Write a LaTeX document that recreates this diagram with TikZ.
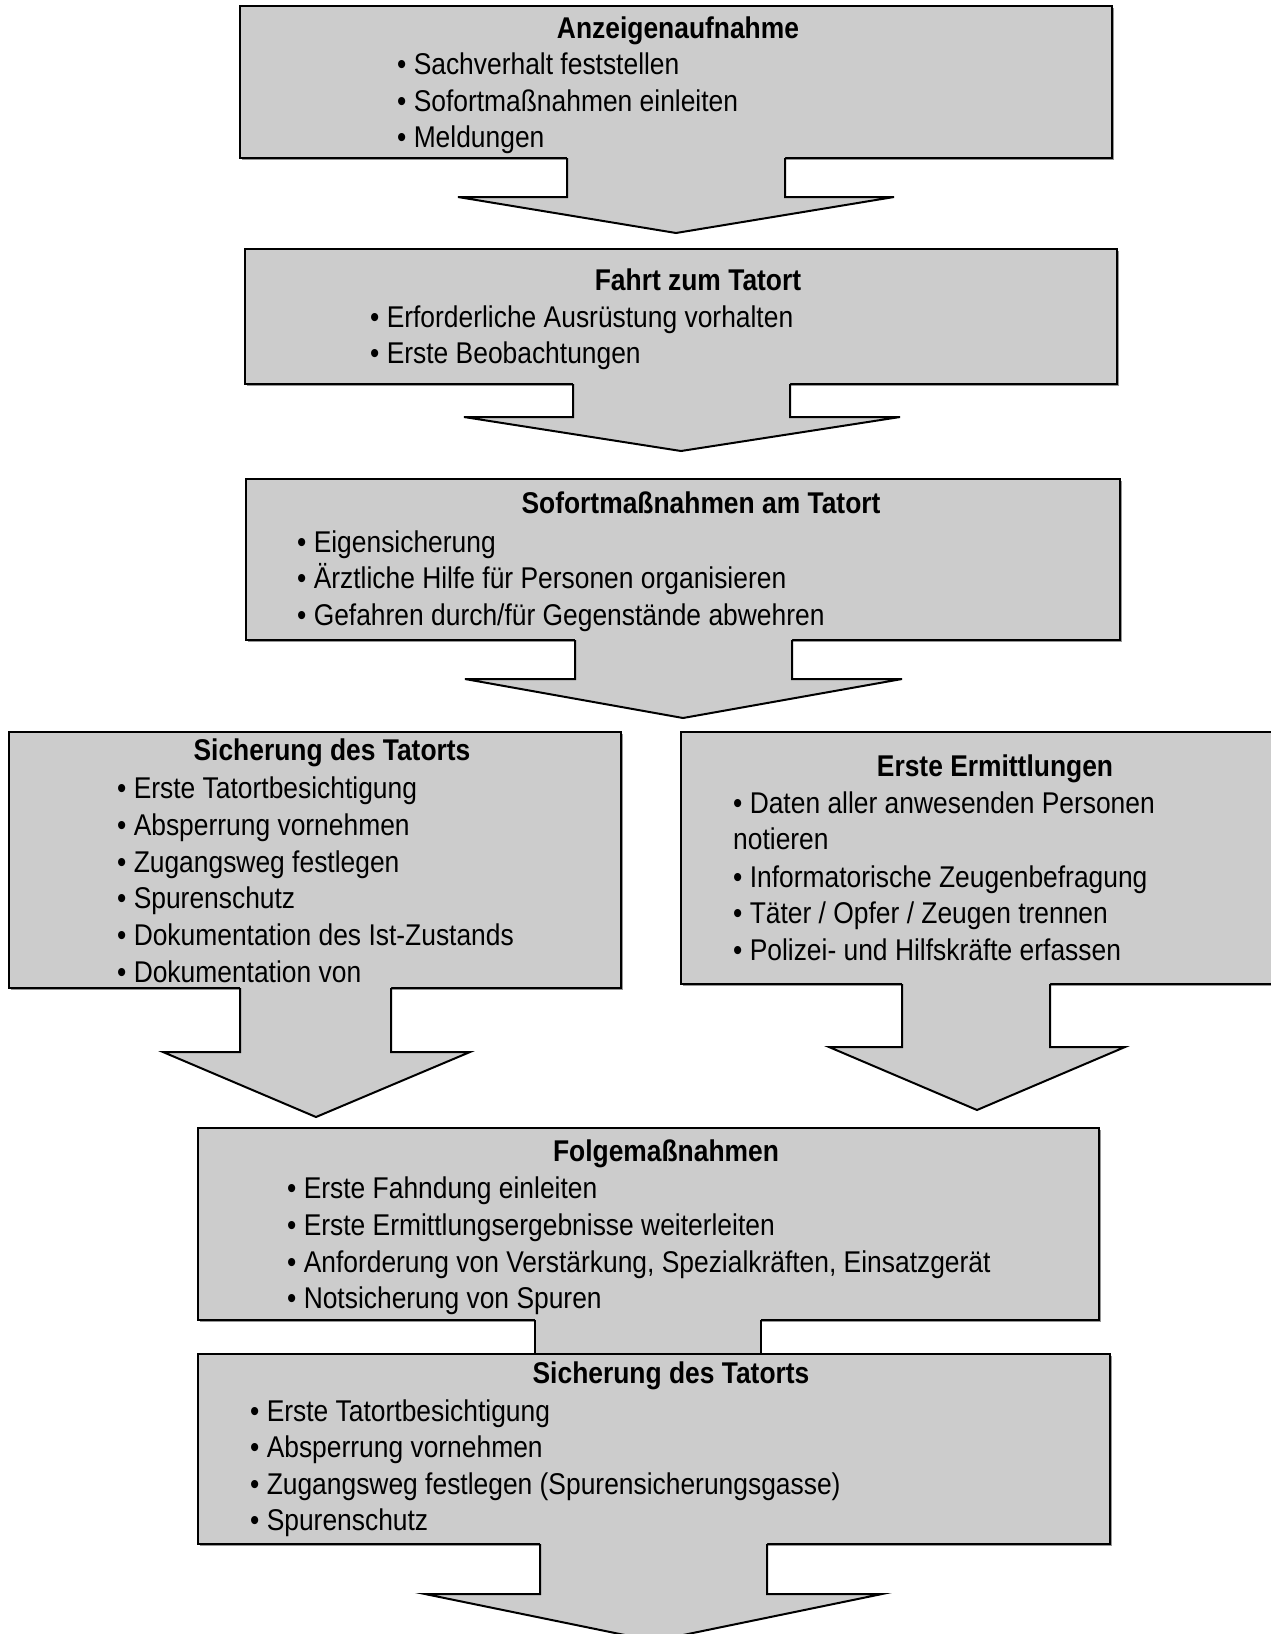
\documentclass[tikz,border=0pt]{standalone}
\usepackage{fontspec}
\setmainfont[FakeStretch=0.88]{Liberation Sans}
\usetikzlibrary{calc,shadows}
\definecolor{boxgrey}{RGB}{204,204,204}
\definecolor{shadowgrey}{RGB}{150,150,150}
\tikzset{
  box/.style={draw=black, line width=2pt, fill=boxgrey, rectangle, inner sep=0pt, outer sep=0pt, anchor=north west,
    drop shadow={shadow xshift=2.2pt, shadow yshift=-2.2pt, fill=shadowgrey, opacity=1}},
  edge/.style={draw=black, line width=2pt, line join=miter},
  ttl/.style={anchor=base, inner sep=0pt, font=\fontsize{30}{36}\selectfont\bfseries},
  itm/.style={anchor=base west, inner sep=0pt, font=\fontsize{30}{36}\selectfont},
}
% #1 box node, #2 shaft left, #3 shaft right, #4 head y, #5 head left, #6 head right, #7 tip x, #8 tip y
\newcommand\blockarrow[8]{%
  \fill[boxgrey] ($(#1.south -| #2,0)+(0,-3)$) -- (#2,#4) -- (#5,#4) -- (#7,#8) -- (#6,#4) -- (#3,#4) -- ($(#1.south -| #3,0)+(0,-3)$) -- cycle;
  \draw[edge] (#1.south -| #2,0) -- (#2,#4) -- (#5,#4) -- (#7,#8) -- (#6,#4) -- (#3,#4) -- (#1.south -| #3,0);
}
\begin{document}
\begin{tikzpicture}[x=1pt,y=-1pt]
\useasboundingbox (0,0) rectangle (1271,1634);
\clip (0,0) rectangle (1271,1634);

% Box 1
\node[box, minimum width=872, minimum height=152] (b1) at (240,6) {};
\node[ttl] (t1) at (678,38) {Anzeigenaufnahme};
\node[itm] (t1a) at (397,74) {• Sachverhalt feststellen};
\node[itm] (t1b) at (397,111) {• Sofortmaßnahmen einleiten};
\node[itm] (t1c) at (397,147) {• Meldungen};
\blockarrow{b1}{567}{785}{197}{458}{894}{676}{233}

% Box 2
\node[box, minimum width=872, minimum height=135] (b2) at (245,249) {};
\node[ttl] (t2) at (698,290) {Fahrt zum Tatort};
\node[itm] (t2a) at (370,327) {• Erforderliche Ausrüstung vorhalten};
\node[itm] (t2b) at (370,363) {• Erste Beobachtungen};
\blockarrow{b2}{573}{790}{417}{464}{900}{681}{451}

% Box 3
\node[box, minimum width=874, minimum height=161] (b3) at (246,479) {};
\node[ttl] (t3) at (701,513) {Sofortmaßnahmen am Tatort};
\node[itm] (t3a) at (297,552) {• Eigensicherung};
\node[itm] (t3b) at (297,588) {• Ärztliche Hilfe für Personen organisieren};
\node[itm] (t3c) at (297,625) {• Gefahren durch/für Gegenstände abwehren};
\blockarrow{b3}{575}{792}{679}{465}{902}{683}{718}

% Box 4 (left)
\node[box, minimum width=612, minimum height=256] (b4) at (9,732) {};
\node[ttl] (t4) at (332,760) {Sicherung des Tatorts};
\node[itm] (t4a) at (117,798) {• Erste Tatortbesichtigung};
\node[itm] (t4b) at (117,835) {• Absperrung vornehmen};
\node[itm] (t4c) at (117,872) {• Zugangsweg festlegen};
\node[itm] (t4d) at (117,908) {• Spurenschutz};
\node[itm] (t4e) at (117,945) {• Dokumentation des Ist-Zustands};
\node[itm] (t4f) at (117,982) {• Dokumentation von};
\blockarrow{b4}{240}{391}{1052}{163}{470}{316}{1117}

% Box 5 (right)
\node[box, minimum width=609, minimum height=252] (b5) at (681,732) {};
\node[ttl] (t5) at (995,776) {Erste Ermittlungen};
\node[itm] (t5a) at (733,813) {• Daten aller anwesenden Personen};
\node[itm] (t5b) at (733,849) {notieren};
\node[itm] (t5c) at (733,887) {• Informatorische Zeugenbefragung};
\node[itm] (t5d) at (733,923) {• Täter / Opfer / Zeugen trennen};
\node[itm] (t5e) at (733,960) {• Polizei- und Hilfskräfte erfassen};
\blockarrow{b5}{902}{1050}{1047}{829}{1125}{977}{1110}

% Box 6
\node[box, minimum width=901, minimum height=192] (b6) at (198,1128) {};
\node[ttl] (t6) at (666,1161) {Folgemaßnahmen};
\node[itm] (t6a) at (287,1198) {• Erste Fahndung einleiten};
\node[itm] (t6b) at (287,1235) {• Erste Ermittlungsergebnisse weiterleiten};
\node[itm] (t6c) at (287,1272) {• Anforderung von Verstärkung, Spezialkräften, Einsatzgerät};
\node[itm] (t6d) at (287,1308) {• Notsicherung von Spuren};

% Box 7 and connector from box 6
\node[box, minimum width=912, minimum height=190] (b7) at (198,1354) {};
\fill[boxgrey] ($(b6.south -| 535,0)+(0,-3)$) rectangle ($(b7.north -| 761,0)+(0,3)$);
\draw[edge] (b6.south -| 535,0) -- (b7.north -| 535,0);
\draw[edge] (b6.south -| 761,0) -- (b7.north -| 761,0);
\draw[edge] (b7.north west) -- (b7.north east);
\node[ttl] (t7) at (671,1383) {Sicherung des Tatorts};
\node[itm] (t7a) at (250,1421) {• Erste Tatortbesichtigung};
\node[itm] (t7b) at (250,1457) {• Absperrung vornehmen};
\node[itm] (t7c) at (250,1494) {• Zugangsweg festlegen (Spurensicherungsgasse)};
\node[itm] (t7d) at (250,1530) {• Spurenschutz};
\blockarrow{b7}{540}{767}{1594}{425}{882}{654}{1641}
\end{tikzpicture}
\end{document}
